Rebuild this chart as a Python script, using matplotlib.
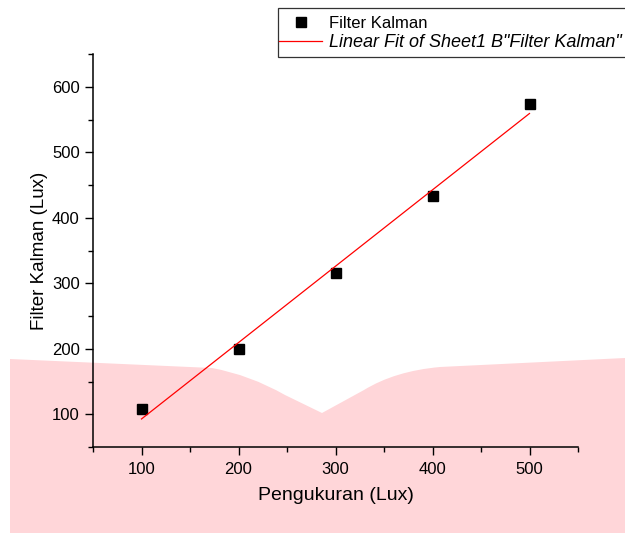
import numpy as np
import matplotlib
matplotlib.use("Agg")
import matplotlib.pyplot as plt
from matplotlib.path import Path
from matplotlib.patches import PathPatch, Rectangle
from matplotlib.ticker import MultipleLocator

plt.rcParams['font.family'] = ['Liberation Sans', 'DejaVu Sans']

# Measured data
pengukuran = [100, 200, 300, 400, 500]
filter_kalman = [108, 199, 316, 433, 574]
x_ticks = [100, 200, 300, 400, 500]
y_ticks = [100, 200, 300, 400, 500, 600]

W, H = 625, 533
fig = plt.figure(figsize=(W / 100, H / 100), dpi=100)

# Pink background band (figure pixel coordinates, origin top-left)
def px(x, y):
    return (x / W, 1 - y / H)

verts = [px(10, 359), px(212, 368), px(250, 375), px(285, 395), px(322, 413),
         px(364, 390), px(395, 371), px(440, 367), px(625, 358),
         px(625, 533), px(10, 533), px(10, 359)]
codes = [Path.MOVETO, Path.LINETO, Path.CURVE3, Path.CURVE3, Path.LINETO,
         Path.LINETO, Path.CURVE3, Path.CURVE3, Path.LINETO,
         Path.LINETO, Path.LINETO, Path.CLOSEPOLY]
band = PathPatch(Path(verts, codes), facecolor='#FFD6D9', edgecolor='none',
                 transform=fig.transFigure, zorder=-1)
fig.patches.append(band)

ax = fig.add_axes([93 / W, 1 - 447 / H, (578 - 93) / W, (447 - 54) / H])
ax.patch.set_alpha(0)

x = np.array(pengukuran, dtype=float)
y = np.array(filter_kalman, dtype=float)
slope, intercept = np.polyfit(x, y, 1)

pts, = ax.plot(x, y, 's', color='black', markersize=6.5, label='Filter Kalman')
fit, = ax.plot(x, slope * x + intercept, '-', color='red', lw=0.9,
               label='Linear Fit of Sheet1 B"Filter Kalman"')

ax.set_xlim(50, 550)
ax.set_ylim(50, 650)
ax.set_xticks(x_ticks)
ax.set_yticks(y_ticks)
ax.xaxis.set_minor_locator(MultipleLocator(50))
ax.yaxis.set_minor_locator(MultipleLocator(50))
ax.tick_params(which='major', direction='out', length=6, width=1, labelsize=12,
               colors='black')
ax.tick_params(axis='y', which='major', pad=3.5)
ax.tick_params(axis='x', which='major', pad=5)
ax.tick_params(which='minor', direction='out', length=3.5, width=1)
for s in ['top', 'right']:
    ax.spines[s].set_visible(False)
for s in ['left', 'bottom']:
    ax.spines[s].set_linewidth(1.1)

ax.set_xlabel('Pengukuran (Lux)', fontsize=14, labelpad=7)
ax.set_ylabel('Filter Kalman (Lux)', fontsize=13.5, labelpad=3)

# Legend box running off the right edge
frame = Rectangle(px(278, 57), (700 - 278) / W, (57 - 8) / H, transform=fig.transFigure,
                  facecolor='white', edgecolor='#333333', linewidth=0.9, zorder=4,
                  clip_on=False)
fig.patches.append(frame)

leg = fig.legend(handles=[pts, fit], loc='upper left', bbox_to_anchor=(279 / W, 1 - 16 / H),
                 fontsize=12, frameon=False, borderpad=0, labelspacing=0.2,
                 handlelength=2.6, handletextpad=0.4, borderaxespad=0)
leg.set_zorder(5)
leg.get_texts()[1].set_fontstyle('italic')
leg.get_texts()[1].set_fontsize(13)

fig.savefig('out.png', dpi=100)
